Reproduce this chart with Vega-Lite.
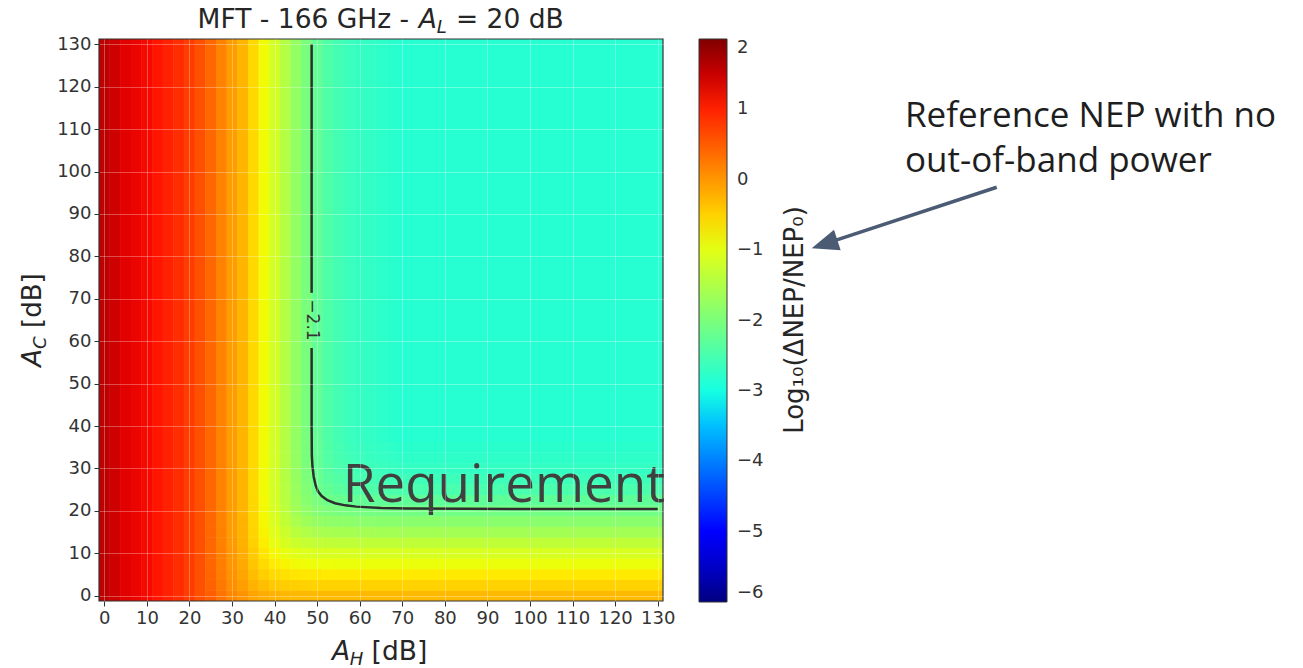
{
"$schema":"https://vega.github.io/schema/vega-lite/v6.json",
"width":564,"height":562,"autosize":"none",
"padding":{"left":99,"top":39,"right":640,"bottom":67},
"background":"#ffffff",
"config":{"view":{"stroke":null}},
"datasets":{"cells":[
{"h0":-1.25,"h1":1.25,"c0":-1.25,"c1":131.25,"v":1.58},
{"h0":1.25,"h1":3.75,"c0":-1.25,"c1":131.25,"v":1.45},
{"h0":3.75,"h1":6.25,"c0":-1.25,"c1":131.25,"v":1.32},
{"h0":6.25,"h1":8.75,"c0":-1.25,"c1":131.25,"v":1.25},
{"h0":8.75,"h1":11.25,"c0":-1.25,"c1":131.25,"v":1.2},
{"h0":11.25,"h1":13.75,"c0":-1.25,"c1":131.25,"v":1.1},
{"h0":13.75,"h1":16.25,"c0":-1.25,"c1":131.25,"v":1.0},
{"h0":16.25,"h1":18.75,"c0":-1.25,"c1":131.25,"v":0.9},
{"h0":18.75,"h1":21.25,"c0":-1.25,"c1":131.25,"v":0.78},
{"h0":21.25,"h1":23.75,"c0":-1.25,"c1":131.25,"v":0.6},
{"h0":23.75,"h1":26.25,"c0":18.75,"c1":131.25,"v":0.40},
{"h0":26.25,"h1":28.75,"c0":18.75,"c1":131.25,"v":0.18},
{"h0":28.75,"h1":31.25,"c0":18.75,"c1":131.25,"v":-0.05},
{"h0":31.25,"h1":33.75,"c0":18.75,"c1":131.25,"v":-0.25},
{"h0":33.75,"h1":36.25,"c0":23.75,"c1":131.25,"v":-0.55},
{"h0":36.25,"h1":38.75,"c0":23.75,"c1":131.25,"v":-0.85},
{"h0":38.75,"h1":41.25,"c0":36.25,"c1":131.25,"v":-1.15},
{"h0":41.25,"h1":43.75,"c0":36.25,"c1":131.25,"v":-1.45},
{"h0":43.75,"h1":46.25,"c0":36.25,"c1":131.25,"v":-1.76},
{"h0":46.25,"h1":48.75,"c0":36.25,"c1":131.25,"v":-2.02},
{"h0":48.75,"h1":51.25,"c0":36.25,"c1":131.25,"v":-2.26},
{"h0":51.25,"h1":53.75,"c0":36.25,"c1":131.25,"v":-2.43},
{"h0":53.75,"h1":56.25,"c0":36.25,"c1":131.25,"v":-2.55},
{"h0":56.25,"h1":58.75,"c0":36.25,"c1":131.25,"v":-2.63},
{"h0":58.75,"h1":61.25,"c0":36.25,"c1":131.25,"v":-2.70},
{"h0":61.25,"h1":63.75,"c0":36.25,"c1":131.25,"v":-2.73},
{"h0":63.75,"h1":66.25,"c0":36.25,"c1":131.25,"v":-2.77},
{"h0":66.25,"h1":68.75,"c0":36.25,"c1":131.25,"v":-2.80},
{"h0":68.75,"h1":131.25,"c0":36.25,"c1":131.25,"v":-2.83},
{"h0":23.75,"h1":26.25,"c0":-1.25,"c1":1.25,"v":0.48},
{"h0":26.25,"h1":28.75,"c0":-1.25,"c1":1.25,"v":0.30},
{"h0":28.75,"h1":31.25,"c0":-1.25,"c1":1.25,"v":0.14},
{"h0":31.25,"h1":33.75,"c0":-1.25,"c1":1.25,"v":0.03},
{"h0":33.75,"h1":36.25,"c0":-1.25,"c1":1.25,"v":-0.11},
{"h0":36.25,"h1":38.75,"c0":-1.25,"c1":1.25,"v":-0.19},
{"h0":38.75,"h1":41.25,"c0":-1.25,"c1":1.25,"v":-0.24},
{"h0":41.25,"h1":43.75,"c0":-1.25,"c1":1.25,"v":-0.27},
{"h0":43.75,"h1":48.75,"c0":-1.25,"c1":1.25,"v":-0.29},
{"h0":48.75,"h1":131.25,"c0":-1.25,"c1":1.25,"v":-0.30},
{"h0":23.75,"h1":26.25,"c0":1.25,"c1":3.75,"v":0.45},
{"h0":26.25,"h1":28.75,"c0":1.25,"c1":3.75,"v":0.26},
{"h0":28.75,"h1":31.25,"c0":1.25,"c1":3.75,"v":0.08},
{"h0":31.25,"h1":33.75,"c0":1.25,"c1":3.75,"v":-0.06},
{"h0":33.75,"h1":36.25,"c0":1.25,"c1":3.75,"v":-0.23},
{"h0":36.25,"h1":38.75,"c0":1.25,"c1":3.75,"v":-0.34},
{"h0":38.75,"h1":41.25,"c0":1.25,"c1":3.75,"v":-0.42},
{"h0":41.25,"h1":43.75,"c0":1.25,"c1":3.75,"v":-0.46},
{"h0":43.75,"h1":46.25,"c0":1.25,"c1":3.75,"v":-0.48},
{"h0":46.25,"h1":48.75,"c0":1.25,"c1":3.75,"v":-0.49},
{"h0":48.75,"h1":131.25,"c0":1.25,"c1":3.75,"v":-0.50},
{"h0":23.75,"h1":26.25,"c0":3.75,"c1":6.25,"v":0.43},
{"h0":26.25,"h1":28.75,"c0":3.75,"c1":6.25,"v":0.23},
{"h0":28.75,"h1":31.25,"c0":3.75,"c1":6.25,"v":0.04},
{"h0":31.25,"h1":33.75,"c0":3.75,"c1":6.25,"v":-0.12},
{"h0":33.75,"h1":36.25,"c0":3.75,"c1":6.25,"v":-0.32},
{"h0":36.25,"h1":38.75,"c0":3.75,"c1":6.25,"v":-0.47},
{"h0":38.75,"h1":41.25,"c0":3.75,"c1":6.25,"v":-0.57},
{"h0":41.25,"h1":43.75,"c0":3.75,"c1":6.25,"v":-0.63},
{"h0":43.75,"h1":46.25,"c0":3.75,"c1":6.25,"v":-0.67},
{"h0":46.25,"h1":48.75,"c0":3.75,"c1":6.25,"v":-0.68},
{"h0":48.75,"h1":51.25,"c0":3.75,"c1":6.25,"v":-0.69},
{"h0":51.25,"h1":131.25,"c0":3.75,"c1":6.25,"v":-0.70},
{"h0":23.75,"h1":26.25,"c0":6.25,"c1":8.75,"v":0.42},
{"h0":26.25,"h1":28.75,"c0":6.25,"c1":8.75,"v":0.21},
{"h0":28.75,"h1":31.25,"c0":6.25,"c1":8.75,"v":0.01},
{"h0":31.25,"h1":33.75,"c0":6.25,"c1":8.75,"v":-0.16},
{"h0":33.75,"h1":36.25,"c0":6.25,"c1":8.75,"v":-0.39},
{"h0":36.25,"h1":38.75,"c0":6.25,"c1":8.75,"v":-0.58},
{"h0":38.75,"h1":41.25,"c0":6.25,"c1":8.75,"v":-0.71},
{"h0":41.25,"h1":43.75,"c0":6.25,"c1":8.75,"v":-0.80},
{"h0":43.75,"h1":46.25,"c0":6.25,"c1":8.75,"v":-0.85},
{"h0":46.25,"h1":48.75,"c0":6.25,"c1":8.75,"v":-0.87},
{"h0":48.75,"h1":53.75,"c0":6.25,"c1":8.75,"v":-0.89},
{"h0":53.75,"h1":131.25,"c0":6.25,"c1":8.75,"v":-0.90},
{"h0":23.75,"h1":26.25,"c0":8.75,"c1":11.25,"v":0.41},
{"h0":26.25,"h1":28.75,"c0":8.75,"c1":11.25,"v":0.20},
{"h0":28.75,"h1":31.25,"c0":8.75,"c1":11.25,"v":-0.01},
{"h0":31.25,"h1":33.75,"c0":8.75,"c1":11.25,"v":-0.19},
{"h0":33.75,"h1":36.25,"c0":8.75,"c1":11.25,"v":-0.44},
{"h0":36.25,"h1":38.75,"c0":8.75,"c1":11.25,"v":-0.66},
{"h0":38.75,"h1":41.25,"c0":8.75,"c1":11.25,"v":-0.83},
{"h0":41.25,"h1":43.75,"c0":8.75,"c1":11.25,"v":-0.95},
{"h0":43.75,"h1":46.25,"c0":8.75,"c1":11.25,"v":-1.02},
{"h0":46.25,"h1":48.75,"c0":8.75,"c1":11.25,"v":-1.06},
{"h0":48.75,"h1":51.25,"c0":8.75,"c1":11.25,"v":-1.08},
{"h0":51.25,"h1":56.25,"c0":8.75,"c1":11.25,"v":-1.09},
{"h0":56.25,"h1":131.25,"c0":8.75,"c1":11.25,"v":-1.10},
{"h0":23.75,"h1":26.25,"c0":11.25,"c1":13.75,"v":0.41},
{"h0":26.25,"h1":28.75,"c0":11.25,"c1":13.75,"v":0.19},
{"h0":28.75,"h1":31.25,"c0":11.25,"c1":13.75,"v":-0.03},
{"h0":31.25,"h1":33.75,"c0":11.25,"c1":13.75,"v":-0.22},
{"h0":33.75,"h1":36.25,"c0":11.25,"c1":13.75,"v":-0.49},
{"h0":36.25,"h1":38.75,"c0":11.25,"c1":13.75,"v":-0.74},
{"h0":38.75,"h1":41.25,"c0":11.25,"c1":13.75,"v":-0.95},
{"h0":41.25,"h1":43.75,"c0":11.25,"c1":13.75,"v":-1.11},
{"h0":43.75,"h1":46.25,"c0":11.25,"c1":13.75,"v":-1.22},
{"h0":46.25,"h1":48.75,"c0":11.25,"c1":13.75,"v":-1.28},
{"h0":48.75,"h1":51.25,"c0":11.25,"c1":13.75,"v":-1.31},
{"h0":51.25,"h1":53.75,"c0":11.25,"c1":13.75,"v":-1.33},
{"h0":53.75,"h1":61.25,"c0":11.25,"c1":13.75,"v":-1.34},
{"h0":61.25,"h1":131.25,"c0":11.25,"c1":13.75,"v":-1.35},
{"h0":23.75,"h1":26.25,"c0":13.75,"c1":16.25,"v":0.40},
{"h0":26.25,"h1":28.75,"c0":13.75,"c1":16.25,"v":0.19},
{"h0":28.75,"h1":31.25,"c0":13.75,"c1":16.25,"v":-0.04},
{"h0":31.25,"h1":33.75,"c0":13.75,"c1":16.25,"v":-0.23},
{"h0":33.75,"h1":36.25,"c0":13.75,"c1":16.25,"v":-0.52},
{"h0":36.25,"h1":38.75,"c0":13.75,"c1":16.25,"v":-0.79},
{"h0":38.75,"h1":41.25,"c0":13.75,"c1":16.25,"v":-1.03},
{"h0":41.25,"h1":43.75,"c0":13.75,"c1":16.25,"v":-1.23},
{"h0":43.75,"h1":46.25,"c0":13.75,"c1":16.25,"v":-1.39},
{"h0":46.25,"h1":48.75,"c0":13.75,"c1":16.25,"v":-1.48},
{"h0":48.75,"h1":51.25,"c0":13.75,"c1":16.25,"v":-1.54},
{"h0":51.25,"h1":53.75,"c0":13.75,"c1":16.25,"v":-1.57},
{"h0":53.75,"h1":58.75,"c0":13.75,"c1":16.25,"v":-1.59},
{"h0":58.75,"h1":63.75,"c0":13.75,"c1":16.25,"v":-1.60},
{"h0":63.75,"h1":131.25,"c0":13.75,"c1":16.25,"v":-1.61},
{"h0":23.75,"h1":26.25,"c0":16.25,"c1":18.75,"v":0.40},
{"h0":26.25,"h1":28.75,"c0":16.25,"c1":18.75,"v":0.18},
{"h0":28.75,"h1":31.25,"c0":16.25,"c1":18.75,"v":-0.04},
{"h0":31.25,"h1":33.75,"c0":16.25,"c1":18.75,"v":-0.24},
{"h0":33.75,"h1":36.25,"c0":16.25,"c1":18.75,"v":-0.53},
{"h0":36.25,"h1":38.75,"c0":16.25,"c1":18.75,"v":-0.82},
{"h0":38.75,"h1":41.25,"c0":16.25,"c1":18.75,"v":-1.08},
{"h0":41.25,"h1":43.75,"c0":16.25,"c1":18.75,"v":-1.32},
{"h0":43.75,"h1":46.25,"c0":16.25,"c1":18.75,"v":-1.52},
{"h0":46.25,"h1":48.75,"c0":16.25,"c1":18.75,"v":-1.66},
{"h0":48.75,"h1":51.25,"c0":16.25,"c1":18.75,"v":-1.75},
{"h0":51.25,"h1":53.75,"c0":16.25,"c1":18.75,"v":-1.80},
{"h0":53.75,"h1":56.25,"c0":16.25,"c1":18.75,"v":-1.82},
{"h0":56.25,"h1":58.75,"c0":16.25,"c1":18.75,"v":-1.84},
{"h0":58.75,"h1":63.75,"c0":16.25,"c1":18.75,"v":-1.85},
{"h0":63.75,"h1":68.75,"c0":16.25,"c1":18.75,"v":-1.86},
{"h0":68.75,"h1":131.25,"c0":16.25,"c1":18.75,"v":-1.87},
{"h0":33.75,"h1":36.25,"c0":18.75,"c1":21.25,"v":-0.54},
{"h0":36.25,"h1":38.75,"c0":18.75,"c1":21.25,"v":-0.83},
{"h0":38.75,"h1":41.25,"c0":18.75,"c1":21.25,"v":-1.11},
{"h0":41.25,"h1":43.75,"c0":18.75,"c1":21.25,"v":-1.37},
{"h0":43.75,"h1":46.25,"c0":18.75,"c1":21.25,"v":-1.61},
{"h0":46.25,"h1":48.75,"c0":18.75,"c1":21.25,"v":-1.79},
{"h0":48.75,"h1":51.25,"c0":18.75,"c1":21.25,"v":-1.91},
{"h0":51.25,"h1":53.75,"c0":18.75,"c1":21.25,"v":-1.98},
{"h0":53.75,"h1":56.25,"c0":18.75,"c1":21.25,"v":-2.02},
{"h0":56.25,"h1":58.75,"c0":18.75,"c1":21.25,"v":-2.04},
{"h0":58.75,"h1":61.25,"c0":18.75,"c1":21.25,"v":-2.05},
{"h0":61.25,"h1":63.75,"c0":18.75,"c1":21.25,"v":-2.06},
{"h0":63.75,"h1":68.75,"c0":18.75,"c1":21.25,"v":-2.07},
{"h0":68.75,"h1":131.25,"c0":18.75,"c1":21.25,"v":-2.09},
{"h0":33.75,"h1":36.25,"c0":21.25,"c1":23.75,"v":-0.54},
{"h0":36.25,"h1":38.75,"c0":21.25,"c1":23.75,"v":-0.84},
{"h0":38.75,"h1":41.25,"c0":21.25,"c1":23.75,"v":-1.13},
{"h0":41.25,"h1":43.75,"c0":21.25,"c1":23.75,"v":-1.41},
{"h0":43.75,"h1":46.25,"c0":21.25,"c1":23.75,"v":-1.68},
{"h0":46.25,"h1":48.75,"c0":21.25,"c1":23.75,"v":-1.88},
{"h0":48.75,"h1":51.25,"c0":21.25,"c1":23.75,"v":-2.03},
{"h0":51.25,"h1":53.75,"c0":21.25,"c1":23.75,"v":-2.13},
{"h0":53.75,"h1":56.25,"c0":21.25,"c1":23.75,"v":-2.18},
{"h0":56.25,"h1":58.75,"c0":21.25,"c1":23.75,"v":-2.22},
{"h0":58.75,"h1":61.25,"c0":21.25,"c1":23.75,"v":-2.24},
{"h0":61.25,"h1":63.75,"c0":21.25,"c1":23.75,"v":-2.25},
{"h0":63.75,"h1":68.75,"c0":21.25,"c1":23.75,"v":-2.27},
{"h0":68.75,"h1":131.25,"c0":21.25,"c1":23.75,"v":-2.29},
{"h0":38.75,"h1":41.25,"c0":23.75,"c1":26.25,"v":-1.14},
{"h0":41.25,"h1":43.75,"c0":23.75,"c1":26.25,"v":-1.43},
{"h0":43.75,"h1":46.25,"c0":23.75,"c1":26.25,"v":-1.72},
{"h0":46.25,"h1":48.75,"c0":23.75,"c1":26.25,"v":-1.94},
{"h0":48.75,"h1":51.25,"c0":23.75,"c1":26.25,"v":-2.13},
{"h0":51.25,"h1":53.75,"c0":23.75,"c1":26.25,"v":-2.25},
{"h0":53.75,"h1":56.25,"c0":23.75,"c1":26.25,"v":-2.33},
{"h0":56.25,"h1":58.75,"c0":23.75,"c1":26.25,"v":-2.37},
{"h0":58.75,"h1":61.25,"c0":23.75,"c1":26.25,"v":-2.41},
{"h0":61.25,"h1":63.75,"c0":23.75,"c1":26.25,"v":-2.43},
{"h0":63.75,"h1":66.25,"c0":23.75,"c1":26.25,"v":-2.44},
{"h0":66.25,"h1":68.75,"c0":23.75,"c1":26.25,"v":-2.46},
{"h0":68.75,"h1":131.25,"c0":23.75,"c1":26.25,"v":-2.48},
{"h0":38.75,"h1":41.25,"c0":26.25,"c1":28.75,"v":-1.15},
{"h0":41.25,"h1":43.75,"c0":26.25,"c1":28.75,"v":-1.44},
{"h0":43.75,"h1":46.25,"c0":26.25,"c1":28.75,"v":-1.74},
{"h0":46.25,"h1":48.75,"c0":26.25,"c1":28.75,"v":-1.98},
{"h0":48.75,"h1":51.25,"c0":26.25,"c1":28.75,"v":-2.18},
{"h0":51.25,"h1":53.75,"c0":26.25,"c1":28.75,"v":-2.33},
{"h0":53.75,"h1":56.25,"c0":26.25,"c1":28.75,"v":-2.41},
{"h0":56.25,"h1":58.75,"c0":26.25,"c1":28.75,"v":-2.47},
{"h0":58.75,"h1":61.25,"c0":26.25,"c1":28.75,"v":-2.51},
{"h0":61.25,"h1":63.75,"c0":26.25,"c1":28.75,"v":-2.54},
{"h0":63.75,"h1":66.25,"c0":26.25,"c1":28.75,"v":-2.56},
{"h0":66.25,"h1":68.75,"c0":26.25,"c1":28.75,"v":-2.58},
{"h0":68.75,"h1":131.25,"c0":26.25,"c1":28.75,"v":-2.61},
{"h0":38.75,"h1":41.25,"c0":28.75,"c1":31.25,"v":-1.15},
{"h0":41.25,"h1":43.75,"c0":28.75,"c1":31.25,"v":-1.45},
{"h0":43.75,"h1":46.25,"c0":28.75,"c1":31.25,"v":-1.75},
{"h0":46.25,"h1":48.75,"c0":28.75,"c1":31.25,"v":-2.00},
{"h0":48.75,"h1":51.25,"c0":28.75,"c1":31.25,"v":-2.21},
{"h0":51.25,"h1":53.75,"c0":28.75,"c1":31.25,"v":-2.37},
{"h0":53.75,"h1":56.25,"c0":28.75,"c1":31.25,"v":-2.47},
{"h0":56.25,"h1":58.75,"c0":28.75,"c1":31.25,"v":-2.53},
{"h0":58.75,"h1":61.25,"c0":28.75,"c1":31.25,"v":-2.58},
{"h0":61.25,"h1":63.75,"c0":28.75,"c1":31.25,"v":-2.61},
{"h0":63.75,"h1":66.25,"c0":28.75,"c1":31.25,"v":-2.64},
{"h0":66.25,"h1":68.75,"c0":28.75,"c1":31.25,"v":-2.66},
{"h0":68.75,"h1":131.25,"c0":28.75,"c1":31.25,"v":-2.70},
{"h0":38.75,"h1":41.25,"c0":31.25,"c1":33.75,"v":-1.15},
{"h0":41.25,"h1":43.75,"c0":31.25,"c1":33.75,"v":-1.45},
{"h0":43.75,"h1":46.25,"c0":31.25,"c1":33.75,"v":-1.75},
{"h0":46.25,"h1":48.75,"c0":31.25,"c1":33.75,"v":-2.01},
{"h0":48.75,"h1":51.25,"c0":31.25,"c1":33.75,"v":-2.23},
{"h0":51.25,"h1":53.75,"c0":31.25,"c1":33.75,"v":-2.40},
{"h0":53.75,"h1":56.25,"c0":31.25,"c1":33.75,"v":-2.50},
{"h0":56.25,"h1":58.75,"c0":31.25,"c1":33.75,"v":-2.57},
{"h0":58.75,"h1":61.25,"c0":31.25,"c1":33.75,"v":-2.63},
{"h0":61.25,"h1":63.75,"c0":31.25,"c1":33.75,"v":-2.66},
{"h0":63.75,"h1":66.25,"c0":31.25,"c1":33.75,"v":-2.69},
{"h0":66.25,"h1":68.75,"c0":31.25,"c1":33.75,"v":-2.71},
{"h0":68.75,"h1":131.25,"c0":31.25,"c1":33.75,"v":-2.76},
{"h0":38.75,"h1":41.25,"c0":33.75,"c1":36.25,"v":-1.15},
{"h0":41.25,"h1":43.75,"c0":33.75,"c1":36.25,"v":-1.45},
{"h0":43.75,"h1":46.25,"c0":33.75,"c1":36.25,"v":-1.76},
{"h0":46.25,"h1":48.75,"c0":33.75,"c1":36.25,"v":-2.01},
{"h0":48.75,"h1":51.25,"c0":33.75,"c1":36.25,"v":-2.24},
{"h0":51.25,"h1":53.75,"c0":33.75,"c1":36.25,"v":-2.41},
{"h0":53.75,"h1":56.25,"c0":33.75,"c1":36.25,"v":-2.52},
{"h0":56.25,"h1":58.75,"c0":33.75,"c1":36.25,"v":-2.60},
{"h0":58.75,"h1":61.25,"c0":33.75,"c1":36.25,"v":-2.66},
{"h0":61.25,"h1":63.75,"c0":33.75,"c1":36.25,"v":-2.69},
{"h0":63.75,"h1":66.25,"c0":33.75,"c1":36.25,"v":-2.72},
{"h0":66.25,"h1":68.75,"c0":33.75,"c1":36.25,"v":-2.75},
{"h0":68.75,"h1":131.25,"c0":33.75,"c1":36.25,"v":-2.80}
]},
"layer":[
{"data":{"name":"cells"},
"mark":{"type":"rect"},
"encoding":{
"x":{"field":"h0","type":"quantitative","scale":{"domain":[-1.25,131.25],"nice":false,"zero":false},
"axis":{"values":[0,10,20,30,40,50,60,70,80,90,100,110,120,130],"title":null,"labelFlush":false,"labelOverlap":false,"labelAngle":0,"labelFont":"DejaVu Sans","labelFontSize":18,"labelColor":"#333333","labelPadding":3,"tickColor":"#333333","tickSize":5,"domain":false,"grid":true,"gridColor":"#ffffff","gridOpacity":0.3,"zindex":1}},
"x2":{"field":"h1"},
"y":{"field":"c0","type":"quantitative","scale":{"domain":[-1.25,131.25],"nice":false,"zero":false},
"axis":{"values":[0,10,20,30,40,50,60,70,80,90,100,110,120,130],"title":null,"labelFlush":false,"labelOverlap":false,"labelFont":"DejaVu Sans","labelFontSize":18,"labelColor":"#333333","labelPadding":3,"tickColor":"#333333","tickSize":5,"domain":false,"grid":true,"gridColor":"#ffffff","gridOpacity":0.3,"zindex":1}},
"y2":{"field":"c1"},
"color":{"field":"v","type":"quantitative",
"scale":{"domain":[-6,-5.12,-5,-3.28,-3.2,-3,-0.88,-0.8,-0.72,1.12,1.28,2],"range":["#000080","#0000ff","#0000ff","#00dbff","#00e6f7","#15ffe2","#eeff08","#f7f500","#ffec00","#ff1300","#e80000","#800000"],"interpolate":"rgb"},
"legend":{"type":"gradient","title":null,"orient":"right","offset":36,"padding":0,"direction":"vertical","values":[-6,-5,-4,-3,-2,-1,0,1,2],"gradientLength":563,"gradientThickness":28,"gradientStrokeColor":"#333333","gradientStrokeWidth":1,"labelFont":"DejaVu Sans","labelFontSize":18,"labelColor":"#333333","labelOffset":10,"labelBaseline":"middle"}}
}},
{"data":{"name":"cells"},
"mark":{"type":"rect"},
"encoding":{
"x":{"field":"h0","type":"quantitative","scale":{"domain":[-1.25,131.25],"nice":false,"zero":false},"title":null},
"x2":{"field":"h1"},
"y":{"field":"c0","type":"quantitative","scale":{"domain":[-1.25,131.25],"nice":false,"zero":false},"title":null},
"y2":{"field":"c1"},
"color":{"field":"v","type":"quantitative"}
}},
{"data":{"values":[
{"s":"a","i":0,"x":48.7,"y":130},{"s":"a","i":1,"x":48.7,"y":71.4},
{"s":"b","i":0,"x":48.7,"y":58.4},{"s":"b","i":1,"x":48.7,"y":40},{"s":"b","i":2,"x":48.75,"y":33},{"s":"b","i":3,"x":48.9,"y":30.5},{"s":"b","i":4,"x":49.2,"y":28},{"s":"b","i":5,"x":49.65,"y":26},{"s":"b","i":6,"x":50.2,"y":24.6},{"s":"b","i":7,"x":51.07,"y":23.5},{"s":"b","i":8,"x":52.4,"y":22.5},{"s":"b","i":9,"x":54.2,"y":21.8},{"s":"b","i":10,"x":56.6,"y":21.3},{"s":"b","i":11,"x":59.2,"y":21.0},{"s":"b","i":12,"x":65,"y":20.7},{"s":"b","i":13,"x":71,"y":20.55},{"s":"b","i":14,"x":85,"y":20.47},{"s":"b","i":15,"x":130,"y":20.45}
]},
"mark":{"type":"line","color":"#2e2e2e","strokeWidth":2.5},
"encoding":{"x":{"field":"x","type":"quantitative","scale":{"domain":[-1.25,131.25],"nice":false,"zero":false},"title":null},
"y":{"field":"y","type":"quantitative","scale":{"domain":[-1.25,131.25],"nice":false,"zero":false},"title":null},
"detail":{"field":"s"},"order":{"field":"i","type":"quantitative"}}},
{"data":{"values":[{"x":48.7,"y":65.0,"t":"−2.1"}]},
"mark":{"type":"text","angle":90,"font":"DejaVu Sans","fontSize":17,"color":"#333333","align":"center","baseline":"middle"},
"encoding":{"x":{"field":"x","type":"quantitative","scale":{"domain":[-1.25,131.25],"nice":false,"zero":false},"title":null},
"y":{"field":"y","type":"quantitative","scale":{"domain":[-1.25,131.25],"nice":false,"zero":false},"title":null},"text":{"field":"t"}}},
{"data":{"values":[{"a":-1.25,"b":131.25}]},
"mark":{"type":"rect","filled":false,"stroke":"#333333","strokeWidth":1.2},
"encoding":{"x":{"field":"a","type":"quantitative","scale":{"domain":[-1.25,131.25],"nice":false,"zero":false},"title":null},"x2":{"field":"b"},
"y":{"field":"a","type":"quantitative","scale":{"domain":[-1.25,131.25],"nice":false,"zero":false},"title":null},"y2":{"field":"b"}}},
{"data":{"values":[{"x":56,"y":22.16,"t":"Requirement"}]},
"mark":{"type":"text","font":"Open Sans","fontSize":53,"color":"#404040","align":"left","baseline":"alphabetic"},
"encoding":{"x":{"field":"x","type":"quantitative","scale":{"domain":[-1.25,131.25],"nice":false,"zero":false},"title":null},
"y":{"field":"y","type":"quantitative","scale":{"domain":[-1.25,131.25],"nice":false,"zero":false},"title":null},"text":{"field":"t"}}},
{"data":{"values":[{"x":188.1,"y":110.5,"t":"Reference NEP with no"},{"x":188.1,"y":99.9,"t":"out-of-band power"}]},
"mark":{"type":"text","font":"Open Sans","fontSize":35,"color":"#1e1e1e","align":"left","baseline":"alphabetic"},
"encoding":{"x":{"field":"x","type":"quantitative","scale":{"domain":[-1.25,131.25],"nice":false,"zero":false},"title":null},
"y":{"field":"y","type":"quantitative","scale":{"domain":[-1.25,131.25],"nice":false,"zero":false},"title":null},"text":{"field":"t"}}},
{"data":{"values":[{"x":209.65,"y":96.29,"x2":170.48,"y2":83.34}]},
"mark":{"type":"rule","color":"#4a5b73","strokeWidth":3.5},
"encoding":{"x":{"field":"x","type":"quantitative","scale":{"domain":[-1.25,131.25],"nice":false,"zero":false},"title":null},
"y":{"field":"y","type":"quantitative","scale":{"domain":[-1.25,131.25],"nice":false,"zero":false},"title":null},"x2":{"field":"x2"},"y2":{"field":"y2"}}},
{"data":{"values":[{"x":169.19,"y":82.89}]},
"mark":{"type":"point","shape":"M0,-1L-0.8,1L0.8,1Z","size":729,"angle":252,"filled":true,"color":"#4a5b73","opacity":1,"strokeWidth":0},
"encoding":{"x":{"field":"x","type":"quantitative","scale":{"domain":[-1.25,131.25],"nice":false,"zero":false},"title":null},
"y":{"field":"y","type":"quantitative","scale":{"domain":[-1.25,131.25],"nice":false,"zero":false},"title":null}}},
{"data":{"values":[{"x":162.26,"y":65.0,"t":"Log₁₀(ΔNEP/NEP₀)"}]},
"mark":{"type":"text","angle":270,"font":"DejaVu Sans","fontSize":26,"color":"#262626","align":"center","baseline":"middle"},
"encoding":{"x":{"field":"x","type":"quantitative","scale":{"domain":[-1.25,131.25],"nice":false,"zero":false},"title":null},
"y":{"field":"y","type":"quantitative","scale":{"domain":[-1.25,131.25],"nice":false,"zero":false},"title":null},"text":{"field":"t"}}},
{"data":{"values":[{"x":21.9,"y":133.84,"t":"MFT - 166 GHz -"},{"x":82.6,"y":133.84,"t":"= 20 dB"},{"x":62.79,"y":-15.16,"t":"[dB]"}]},
"mark":{"type":"text","font":"DejaVu Sans","fontSize":26.5,"color":"#262626","align":"left","baseline":"alphabetic"},
"encoding":{"x":{"field":"x","type":"quantitative","scale":{"domain":[-1.25,131.25],"nice":false,"zero":false},"title":null},
"y":{"field":"y","type":"quantitative","scale":{"domain":[-1.25,131.25],"nice":false,"zero":false},"title":null},"text":{"field":"t"}}},
{"data":{"values":[{"x":73.85,"y":133.84,"t":"A"},{"x":53.49,"y":-15.16,"t":"A"}]},
"mark":{"type":"text","font":"DejaVu Sans","fontSize":26.5,"fontStyle":"italic","color":"#262626","align":"left","baseline":"alphabetic"},
"encoding":{"x":{"field":"x","type":"quantitative","scale":{"domain":[-1.25,131.25],"nice":false,"zero":false},"title":null},
"y":{"field":"y","type":"quantitative","scale":{"domain":[-1.25,131.25],"nice":false,"zero":false},"title":null},"text":{"field":"t"}}},
{"data":{"values":[{"x":78.1,"y":132.66,"t":"L"},{"x":57.67,"y":-16.34,"t":"H"}]},
"mark":{"type":"text","font":"DejaVu Sans","fontSize":18,"fontStyle":"italic","color":"#262626","align":"left","baseline":"alphabetic"},
"encoding":{"x":{"field":"x","type":"quantitative","scale":{"domain":[-1.25,131.25],"nice":false,"zero":false},"title":null},
"y":{"field":"y","type":"quantitative","scale":{"domain":[-1.25,131.25],"nice":false,"zero":false},"title":null},"text":{"field":"t"}}},
{"data":{"values":[{"x":-14.88,"y":63.11,"t":"[dB]"}]},
"mark":{"type":"text","angle":270,"font":"DejaVu Sans","fontSize":26,"color":"#262626","align":"left","baseline":"alphabetic"},
"encoding":{"x":{"field":"x","type":"quantitative","scale":{"domain":[-1.25,131.25],"nice":false,"zero":false},"title":null},
"y":{"field":"y","type":"quantitative","scale":{"domain":[-1.25,131.25],"nice":false,"zero":false},"title":null},"text":{"field":"t"}}},
{"data":{"values":[{"x":-14.88,"y":53.99,"t":"A"}]},
"mark":{"type":"text","angle":270,"font":"DejaVu Sans","fontSize":26,"fontStyle":"italic","color":"#262626","align":"left","baseline":"alphabetic"},
"encoding":{"x":{"field":"x","type":"quantitative","scale":{"domain":[-1.25,131.25],"nice":false,"zero":false},"title":null},
"y":{"field":"y","type":"quantitative","scale":{"domain":[-1.25,131.25],"nice":false,"zero":false},"title":null},"text":{"field":"t"}}},
{"data":{"values":[{"x":-13.7,"y":58.19,"t":"C"}]},
"mark":{"type":"text","angle":270,"font":"DejaVu Sans","fontSize":18,"fontStyle":"italic","color":"#262626","align":"left","baseline":"alphabetic"},
"encoding":{"x":{"field":"x","type":"quantitative","scale":{"domain":[-1.25,131.25],"nice":false,"zero":false},"title":null},
"y":{"field":"y","type":"quantitative","scale":{"domain":[-1.25,131.25],"nice":false,"zero":false},"title":null},"text":{"field":"t"}}}
]
}
